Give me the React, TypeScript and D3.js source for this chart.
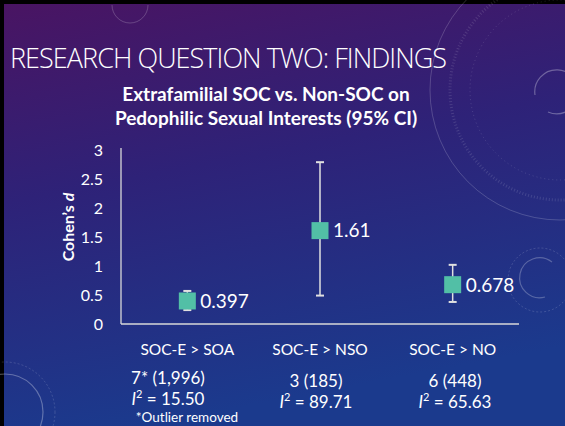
import { useRef, useEffect } from 'react';
import * as d3 from 'd3';

// effect sizes
const categories = ['SOC-E > SOA', 'SOC-E > NSO', 'SOC-E > NO'];
const cohensD = [0.397, 1.61, 0.678];
const ciLow = [0.24, 0.49, 0.38];
const ciHigh = [0.57, 2.79, 1.02];
const pointLabels = ['0.397', '1.61', '0.678'];
const studyCounts = ['7* (1,996)', '3 (185)', '6 (448)'];
const iSquared = ['15.50', '89.71', '65.63'];
const yTicks = [0, 0.5, 1, 1.5, 2, 2.5, 3];

const W = 565;
const H = 426;
const FONT = 'Lato, "Open Sans", "Liberation Sans", sans-serif';
const HEAD_FONT = '"Open Sans", Lato, sans-serif';

const App = () => {
  const svgRef = useRef<SVGSVGElement>(null);

  useEffect(() => {
    const svg = d3.select(svgRef.current);
    svg.selectAll('*').remove();

    // background gradient (purple to blue)
    const defs = svg.append('defs');
    const grad = defs.append('linearGradient')
      .attr('id', 'bg')
      .attr('x1', '0').attr('y1', '0').attr('x2', '0.25').attr('y2', '1');
    grad.append('stop').attr('offset', '0%').attr('stop-color', '#4a1462');
    grad.append('stop').attr('offset', '45%').attr('stop-color', '#2e2278');
    grad.append('stop').attr('offset', '100%').attr('stop-color', '#1b3a8d');

    svg.append('rect').attr('width', W).attr('height', H).attr('fill', 'url(#bg)');
    // black frame at top and left
    svg.append('rect').attr('width', W).attr('height', 4).attr('fill', '#000');
    svg.append('rect').attr('width', 4).attr('height', H).attr('fill', '#000');

    // decorative rings
    const deco = svg.append('g').attr('fill', 'none').attr('stroke', '#ffffff');
    deco.append('circle').attr('cx', 560).attr('cy', 90).attr('r', 130).attr('stroke-opacity', 0.18).attr('stroke-width', 1);
    deco.append('circle').attr('cx', 560).attr('cy', 90).attr('r', 110).attr('stroke-opacity', 0.12).attr('stroke-width', 3).attr('stroke-dasharray', '1 2');
    deco.append('circle').attr('cx', 560).attr('cy', 90).attr('r', 90).attr('stroke-opacity', 0.14).attr('stroke-dasharray', '1 3');
    deco.append('path').attr('d', 'M 535 95 A 22 22 0 1 1 548 112').attr('stroke-opacity', 0.3).attr('stroke-width', 1.2);
    deco.append('path').attr('d', 'M 112 5 A 18 18 0 0 0 148 5').attr('stroke-opacity', 0.2);
    deco.append('path').attr('d', 'M 545 297 A 20 20 0 1 1 552 262').attr('stroke-opacity', 0.25).attr('stroke-width', 1.2);
    deco.append('circle').attr('cx', 540).attr('cy', 280).attr('r', 32).attr('stroke-opacity', 0.15).attr('stroke-dasharray', '2 2');
    deco.append('circle').attr('cx', 5).attr('cy', 412).attr('r', 38).attr('stroke-opacity', 0.3).attr('stroke-width', 1.2);
    deco.append('circle').attr('cx', 5).attr('cy', 412).attr('r', 50).attr('stroke-opacity', 0.15).attr('stroke-dasharray', '2 2');

    // slide heading
    svg.append('text')
      .attr('x', 10).attr('y', 68)
      .attr('fill', '#ffffff')
      .style('font-family', HEAD_FONT)
      .style('font-weight', 300)
      .style('font-size', '27px')
      .attr('textLength', 437)
      .text('RESEARCH QUESTION TWO: FINDINGS');

    // chart title
    const title = svg.append('text')
      .attr('text-anchor', 'middle')
      .attr('fill', '#ffffff')
      .style('font-family', FONT)
      .style('font-weight', 700)
      .style('font-size', '19px');
    title.append('tspan').attr('x', 266).attr('y', 101).text('Extrafamilial SOC vs. Non-SOC on');
    title.append('tspan').attr('x', 266).attr('y', 125).text('Pedophilic Sexual Interests (95% CI)');

    const x = d3.scaleBand().domain(categories).range([121, 519]);
    const y = d3.scaleLinear().domain([0, 3]).range([324, 150]);
    const cx = (i: number) => (x(categories[i]) as number) + x.bandwidth() / 2;

    // axes lines
    svg.append('line')
      .attr('x1', 121).attr('x2', 121).attr('y1', 148).attr('y2', y(0))
      .attr('stroke', '#d9d9d9').attr('stroke-width', 1.3);
    svg.append('line')
      .attr('x1', 121).attr('x2', 519).attr('y1', y(0)).attr('y2', y(0))
      .attr('stroke', '#d9d9d9').attr('stroke-width', 1.3);

    // y tick labels
    svg.selectAll('.ytick')
      .data(yTicks)
      .enter().append('text')
      .attr('class', 'ytick')
      .attr('x', 103)
      .attr('y', d => y(d))
      .attr('dy', '0.36em')
      .attr('text-anchor', 'end')
      .attr('fill', '#ffffff')
      .style('font-family', FONT)
      .style('font-size', '16px')
      .text(d => String(d));

    // y axis title
    const yt = svg.append('text')
      .attr('transform', 'translate(74,227) rotate(-90)')
      .attr('text-anchor', 'middle')
      .attr('fill', '#ffffff')
      .style('font-family', FONT)
      .style('font-weight', 700)
      .style('font-size', '16px');
    yt.append('tspan').text('Cohen\u2019s ');
    yt.append('tspan').style('font-style', 'italic').text('d');

    const idx = d3.range(categories.length);

    // error bars
    const eb = svg.append('g').attr('stroke', '#e0e0e0').attr('stroke-width', 1.5);
    idx.forEach(i => {
      eb.append('line').attr('x1', cx(i)).attr('x2', cx(i)).attr('y1', y(ciLow[i])).attr('y2', y(ciHigh[i]));
      eb.append('line').attr('x1', cx(i) - 4).attr('x2', cx(i) + 4).attr('y1', y(ciLow[i])).attr('y2', y(ciLow[i])).attr('stroke-width', 2);
      eb.append('line').attr('x1', cx(i) - 4).attr('x2', cx(i) + 4).attr('y1', y(ciHigh[i])).attr('y2', y(ciHigh[i])).attr('stroke-width', 2);
    });

    // square markers
    const s = 17;
    svg.selectAll('.pt')
      .data(idx)
      .enter().append('rect')
      .attr('class', 'pt')
      .attr('x', i => cx(i) - s / 2)
      .attr('y', i => y(cohensD[i]) - s / 2)
      .attr('width', s)
      .attr('height', s)
      .attr('fill', '#52bfa6');

    // value labels
    svg.selectAll('.vl')
      .data(idx)
      .enter().append('text')
      .attr('class', 'vl')
      .attr('x', i => cx(i) + 13)
      .attr('y', i => y(cohensD[i]))
      .attr('dy', '0.36em')
      .attr('fill', '#ffffff')
      .style('font-family', FONT)
      .style('font-size', '19px')
      .text(i => pointLabels[i]);

    // category labels
    svg.selectAll('.cat')
      .data(idx)
      .enter().append('text')
      .attr('class', 'cat')
      .attr('x', i => cx(i))
      .attr('y', 355)
      .attr('text-anchor', 'middle')
      .attr('fill', '#ffffff')
      .style('font-family', FONT)
      .style('font-size', '15.5px')
      .text(i => categories[i]);

    // k (n) rows
    const rowX = [168, 316, 455];
    const rowY = [384, 387, 387];
    svg.selectAll('.kn')
      .data(idx)
      .enter().append('text')
      .attr('class', 'kn')
      .attr('x', i => rowX[i])
      .attr('y', i => rowY[i])
      .attr('text-anchor', 'middle')
      .attr('fill', '#ffffff')
      .style('font-family', FONT)
      .style('font-size', '17px')
      .text(i => studyCounts[i]);

    const i2 = svg.selectAll('.i2')
      .data(idx)
      .enter().append('text')
      .attr('class', 'i2')
      .attr('x', i => rowX[i])
      .attr('y', i => rowY[i] + 21)
      .attr('text-anchor', 'middle')
      .attr('fill', '#ffffff')
      .style('font-family', FONT)
      .style('font-size', '17px');
    i2.append('tspan').style('font-style', 'italic').text('I');
    i2.append('tspan').attr('dy', -7).style('font-size', '11px').text('2');
    i2.append('tspan').attr('dy', 7).text(i => ` = ${iSquared[i]}`);

    svg.append('text')
      .attr('x', 187).attr('y', 422)
      .attr('text-anchor', 'middle')
      .attr('fill', '#ffffff')
      .style('font-family', FONT)
      .style('font-size', '13.5px')
      .text('*Outlier removed');
  }, []);

  return (
    <svg
      ref={svgRef}
      width={W}
      height={H}
      style={{ position: 'absolute', left: 0, top: 0, display: 'block' }}
    />
  );
};

export default App;
